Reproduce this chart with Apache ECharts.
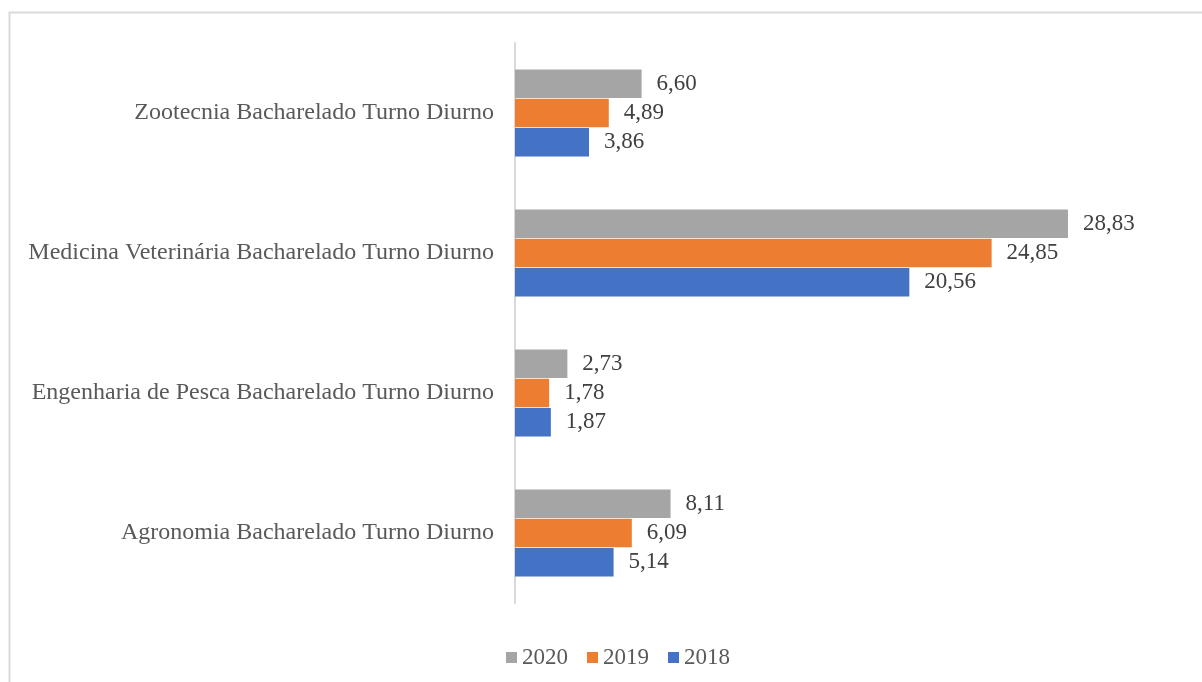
<!DOCTYPE html>
<html>
<head>
<meta charset="utf-8">
<script src="https://cdn.jsdelivr.net/npm/echarts@6/dist/echarts.min.js"></script>
<style>
html,body{margin:0;padding:0;background:#fff;}
#chart{width:1202px;height:682px;}
</style>
</head>
<body>
<div id="chart"></div>
<script>
var categories = [
  'Agronomia Bacharelado Turno Diurno',
  'Engenharia de Pesca Bacharelado Turno Diurno',
  'Medicina Veterinária Bacharelado Turno Diurno',
  'Zootecnia Bacharelado Turno Diurno'
];
var values2018 = [5.14, 1.87, 20.56, 3.86];
var values2019 = [6.09, 1.78, 24.85, 4.89];
var values2020 = [8.11, 2.73, 28.83, 6.60];
var legendOrder = ['2020', '2019', '2018'];

var fontFamily = '"Liberation Serif", "Times New Roman", serif';
function fmt(p) { return p.value.toFixed(2).replace('.', ','); }
function mk(name, data, color) {
  return {
    name: name, type: 'bar', data: data, barWidth: 28.5, barGap: '3%',
    itemStyle: { color: color },
    label: { show: true, position: 'right', distance: 15, formatter: fmt,
      fontFamily: fontFamily, fontSize: 23, color: '#404040' },
    silent: true
  };
}
var chart = echarts.init(document.getElementById('chart'));
chart.setOption({
  animation: false,
  backgroundColor: '#fff',
  graphic: [{ type: 'rect', shape: { x: 9.5, y: 12.5, width: 1300, height: 800 },
    style: { fill: 'none', stroke: '#d9d9d9', lineWidth: 2 }, silent: true, z: -1 }],
  grid: { left: 515, top: 43, height: 560, width: 575.4 },
  legend: {
    data: legendOrder, left: 501, top: 641, itemWidth: 11, itemHeight: 11, itemGap: 19,
    icon: 'rect',
    textStyle: { fontFamily: fontFamily, fontSize: 23, color: '#595959' }
  },
  xAxis: { type: 'value', min: 0, max: 30, show: false, splitLine: { show: false } },
  yAxis: {
    type: 'category', data: categories,
    axisLine: { show: true, lineStyle: { color: '#d9d9d9', width: 2 } },
    axisTick: { show: false },
    axisLabel: { fontFamily: fontFamily, fontSize: 24, color: '#595959', margin: 21 }
  },
  series: [
    mk('2020', values2020, '#a5a5a5'),
    mk('2019', values2019, '#ed7d31'),
    mk('2018', values2018, '#4472c4')
  ]
});
</script>
</body>
</html>
